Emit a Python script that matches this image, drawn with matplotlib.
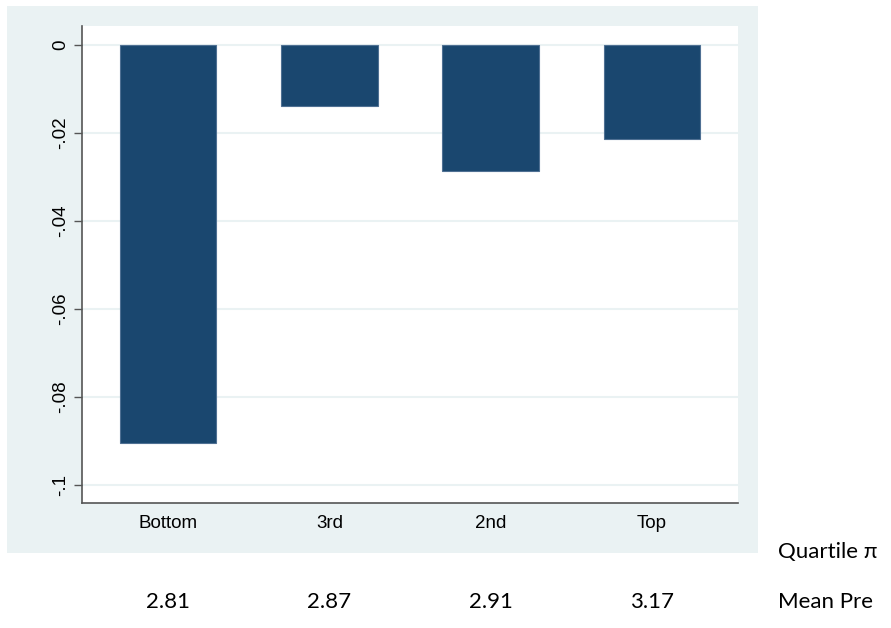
import numpy as np
import matplotlib.pyplot as plt
from matplotlib.patches import Rectangle

quartiles = ["Bottom", "3rd", "2nd", "Top"]
effect = [-0.0905, -0.0139, -0.0286, -0.0214]
mean_pre = ["2.81", "2.87", "2.91", "3.17"]
yticks = [0, -0.02, -0.04, -0.06, -0.08, -0.1]
ylabels = ["0", "-.02", "-.04", "-.06", "-.08", "-.1"]

W, H = 891, 628
fig = plt.figure(figsize=(W / 100, H / 100), dpi=100)
fig.patch.set_facecolor("white")

# stata style grey-blue backdrop
fig.patches.append(Rectangle((7 / W, 1 - 553 / H), (758 - 7) / W, (553 - 6) / H,
                             transform=fig.transFigure, facecolor="#eaf2f3",
                             edgecolor="none", zorder=-1))

ax = fig.add_axes([82 / W, 1 - 503 / H, (738 - 82) / W, (503 - 26) / H])
ax.set_zorder(2)
ax.set_facecolor("white")
x = np.arange(len(quartiles))
ax.bar(x, effect, width=0.6, color="#1a476f", edgecolor="#4f7093", linewidth=0.8, zorder=3)

ax.set_xlim(-0.534, 3.534)
ax.set_ylim(-0.1041, 0.0043)
ax.set_yticks(yticks)
ax.set_yticklabels(ylabels, rotation=90, va="center", family="Liberation Sans", fontsize=13.5)
ax.set_xticks(x)
ax.set_xticklabels(quartiles, family="Liberation Sans", fontsize=13.5)
ax.tick_params(axis="x", length=0, pad=9)
ax.tick_params(axis="y", length=6, width=1, color="#555555", pad=3)
ax.grid(axis="y", color="#eaf2f3", linewidth=1.5, zorder=1)
ax.set_axisbelow(True)
for s in ["top", "right"]:
    ax.spines[s].set_visible(False)
for s in ["left", "bottom"]:
    ax.spines[s].set_color("#555555")
    ax.spines[s].set_linewidth(1.2)

# table under the chart
for i, v in enumerate(mean_pre):
    px = ax.transData.transform((x[i], 0))[0] / W
    fig.text(px, 1 - 608 / H, v, ha="center", va="baseline", family="Lato", fontsize=16)
fig.text(778 / W, 1 - 558 / H, "Quartile π", ha="left", va="baseline",
         family=["Lato", "DejaVu Sans"], fontsize=16)
fig.text(778 / W, 1 - 608 / H, "Mean Pre", ha="left", va="baseline", family="Lato", fontsize=16)

fig.savefig("out.png", dpi=100)
